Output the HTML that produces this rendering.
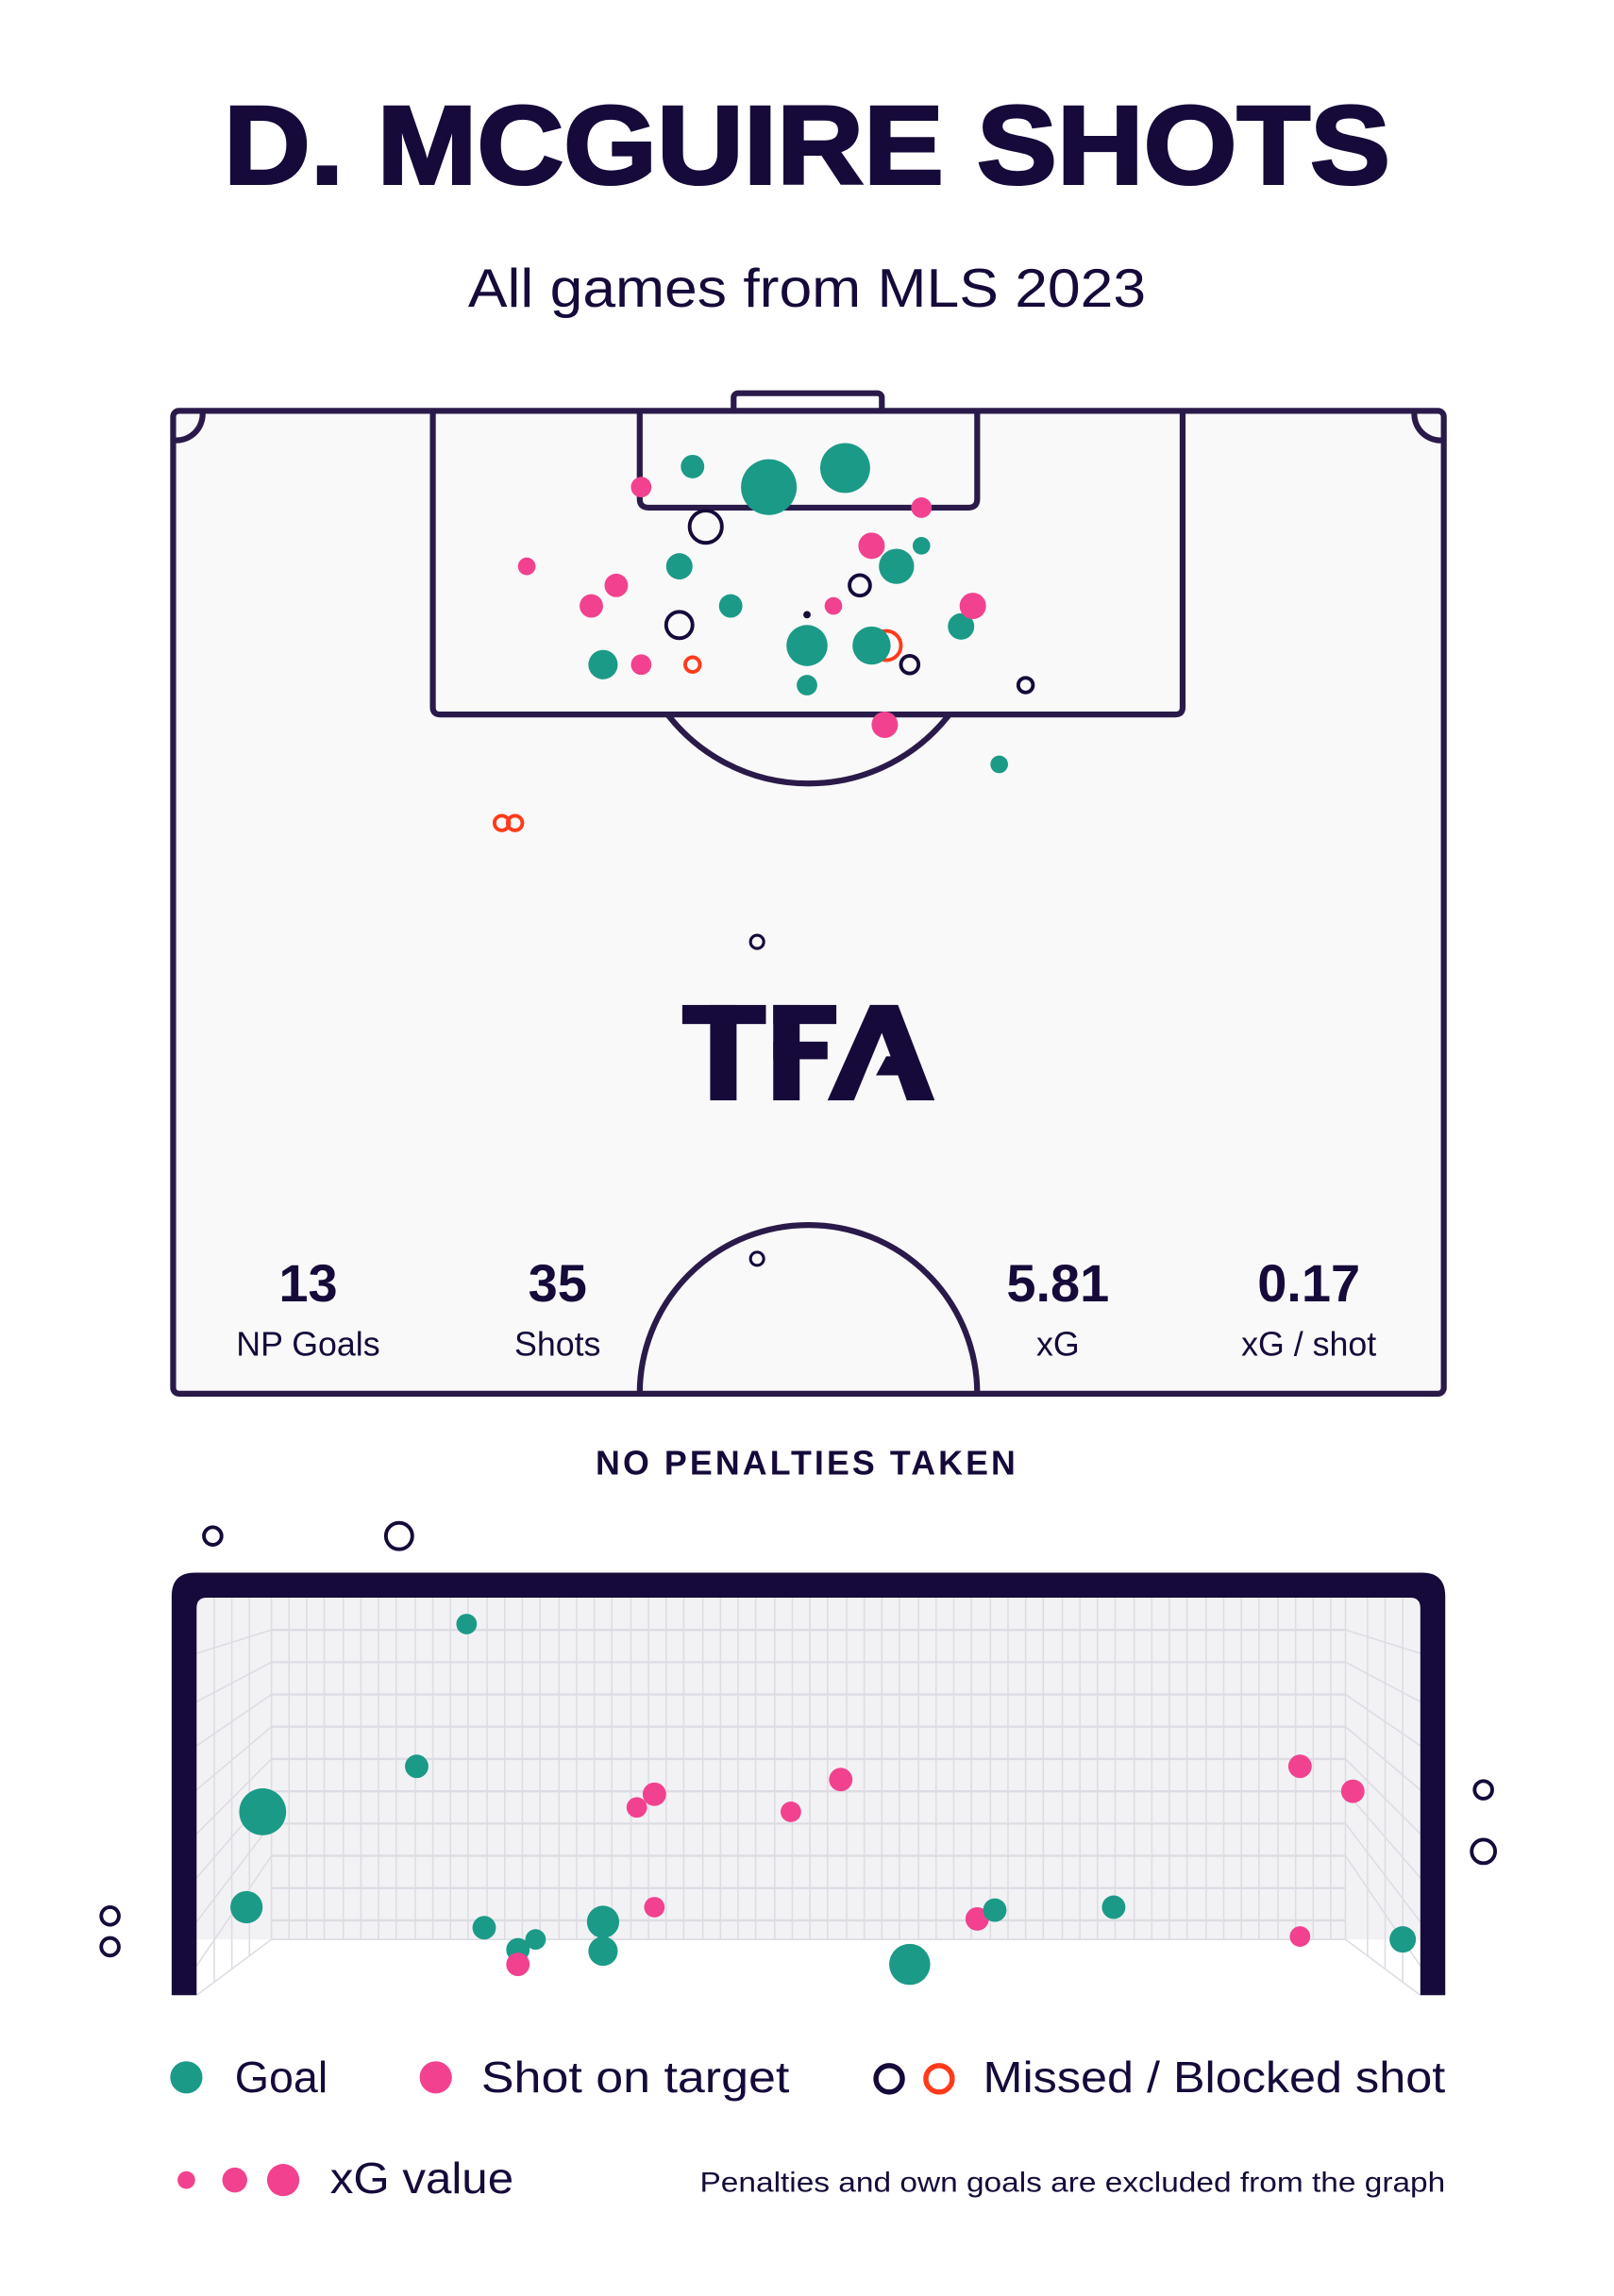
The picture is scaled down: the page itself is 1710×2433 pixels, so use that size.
<!DOCTYPE html>
<html><head><meta charset="utf-8"><style>html,body{margin:0;padding:0;background:#fff}svg{display:block}</style></head>
<body>
<svg width="1710" height="2433" viewBox="0 0 1100 1565" xmlns="http://www.w3.org/2000/svg" font-family="Liberation Sans, sans-serif">
<rect width="1100" height="1565" fill="#fff"/>
<text x="550" y="125" text-anchor="middle" font-size="76" font-weight="900" fill="#160a3a" textLength="795" lengthAdjust="spacingAndGlyphs" stroke="#160a3a" stroke-width="2">D. MCGUIRE SHOTS</text>
<text x="550" y="209" text-anchor="middle" font-size="37" fill="#160a3a" textLength="462" lengthAdjust="spacingAndGlyphs">All games from MLS 2023</text>
<g fill="none" stroke="#2a1a4a" stroke-width="4">
<rect x="500" y="268" width="101" height="14" rx="3" fill="#fff"/>
<rect x="118" y="280" width="866" height="670" rx="4" fill="#f9f9f9"/>
<path d="M295 280 V482 q0 5 5 5 H801 q5 0 5-5 V280"/>
<path d="M436 280 V340 q0 6 6 6 H660 q6 0 6-6 V280"/>
<path d="M455 487 A121.5 121.5 0 0 0 647 487"/>
<path d="M436 950 A115 115 0 0 1 666 950"/>
<path d="M118 300 A18 18 0 0 0 138 280"/>
<path d="M984 300 A18 18 0 0 1 964 280"/>
</g>
<g fill="#1b9a87">
<circle cx="472" cy="318" r="8"/><circle cx="524" cy="332" r="19"/><circle cx="576" cy="319" r="17"/><circle cx="463" cy="386" r="9"/><circle cx="611" cy="386" r="12"/><circle cx="628" cy="372" r="6"/><circle cx="498" cy="413" r="8"/><circle cx="655" cy="427" r="9"/><circle cx="550" cy="440" r="14"/><circle cx="411" cy="453" r="10"/><circle cx="550" cy="467" r="7"/><circle cx="681" cy="521" r="6"/>
</g>
<g fill="#f2428f">
<circle cx="437" cy="332" r="7"/><circle cx="628" cy="346" r="7"/><circle cx="359" cy="386" r="6"/><circle cx="594" cy="372" r="9"/><circle cx="420" cy="399" r="8"/><circle cx="403" cy="413" r="8"/><circle cx="568" cy="413" r="6"/><circle cx="663" cy="413" r="9"/><circle cx="437" cy="453" r="7"/><circle cx="603" cy="494" r="9"/>
</g>
<g fill="none" stroke="#ff3a1a" stroke-width="2.5">
<circle cx="604" cy="440" r="10"/><circle cx="472" cy="453" r="5"/><circle cx="342" cy="561" r="5"/><circle cx="351" cy="561" r="5"/>
</g>
<circle cx="594" cy="440" r="13" fill="#1b9a87"/>
<g fill="none" stroke="#160a3a" stroke-width="2.5">
<circle cx="481" cy="359" r="11"/><circle cx="586" cy="399" r="7"/><circle cx="463" cy="426" r="9"/><circle cx="620" cy="453" r="6"/><circle cx="699" cy="467" r="5"/><circle cx="516" cy="642" r="4.5" stroke-width="2"/><circle cx="516" cy="858" r="4.5" stroke-width="2"/>
</g>
<circle cx="550" cy="419" r="2.5" fill="#160a3a"/>
<g fill="#160a3a">
<rect x="465" y="685" width="57" height="13"/><rect x="484" y="685" width="18" height="65"/>
<rect x="527" y="685" width="43" height="13"/><rect x="527" y="685" width="18" height="65"/><rect x="527" y="710" width="37" height="12"/>
<polygon points="593,685 612,685 637,750 618,750 612,733 597,733 604,720 607,720 601,704 582,750 564,750"/>
</g>
<g fill="#160a3a" text-anchor="middle">
<text x="210" y="887" font-size="36" font-weight="900">13</text>
<text x="380" y="887" font-size="36" font-weight="900">35</text>
<text x="721" y="887" font-size="36" font-weight="900">5.81</text>
<text x="892" y="887" font-size="36" font-weight="900">0.17</text>
<text x="210" y="924" font-size="23">NP Goals</text>
<text x="380" y="924" font-size="23">Shots</text>
<text x="721" y="924" font-size="23">xG</text>
<text x="892" y="924" font-size="23">xG / shot</text>
<text x="550" y="1005" font-size="23" font-weight="bold" letter-spacing="2">NO PENALTIES TAKEN</text>
</g>
<rect x="134" y="1089" width="834" height="271" fill="#f2f2f5"/>
<rect x="134" y="1322" width="834" height="38" fill="#fff"/>
<g stroke="#dcdce3" stroke-width="1">
<path d="M185 1089 V1322 M917 1089 V1322 M185 1322 H917 M185 1322 L134 1360 M917 1322 L968 1360"/>
<path d="M197 1089V1322M209 1089V1322M221 1089V1322M234 1089V1322M246 1089V1322M258 1089V1322M270 1089V1322M283 1089V1322M295 1089V1322M307 1089V1322M319 1089V1322M332 1089V1322M344 1089V1322M356 1089V1322M368 1089V1322M381 1089V1322M393 1089V1322M405 1089V1322M417 1089V1322M430 1089V1322M442 1089V1322M454 1089V1322M466 1089V1322M479 1089V1322M491 1089V1322M503 1089V1322M515 1089V1322M528 1089V1322M540 1089V1322M552 1089V1322M564 1089V1322M577 1089V1322M589 1089V1322M601 1089V1322M613 1089V1322M626 1089V1322M638 1089V1322M650 1089V1322M662 1089V1322M675 1089V1322M687 1089V1322M699 1089V1322M711 1089V1322M724 1089V1322M736 1089V1322M748 1089V1322M760 1089V1322M773 1089V1322M785 1089V1322M797 1089V1322M809 1089V1322M822 1089V1322M834 1089V1322M846 1089V1322M858 1089V1322M871 1089V1322M883 1089V1322M895 1089V1322M907 1089V1322"/>
<path stroke-width="1.5" d="M185 1111H917M185 1133H917M185 1155H917M185 1177H917M185 1199H917M185 1221H917M185 1243H917M185 1265H917M185 1287H917M185 1309H917"/>
<path d="M146 1089V1351M158 1089V1342M170 1089V1333M956 1089V1351M944 1089V1342M932 1089V1333"/>
<path d="M134 1127L185 1111M134 1160L185 1133M134 1190L185 1155M134 1220L185 1177M134 1250L185 1199M134 1280L185 1221M134 1310L185 1243M134 1340L185 1265M968 1127L917 1111M968 1160L917 1133M968 1190L917 1155M968 1220L917 1177M968 1250L917 1199M968 1280L917 1221M968 1310L917 1243M968 1340L917 1265"/>
</g>
<path d="M117 1360 V1088 q0-16 16-16 H969 q16 0 16 16 V1360 H968 V1096 q0-7-7-7 H141 q-7 0-7 7 V1360 Z" fill="#160a3a"/>
<g fill="#1b9a87">
<circle cx="318" cy="1107" r="7"/><circle cx="284" cy="1204" r="8"/><circle cx="179" cy="1235" r="16"/><circle cx="168" cy="1300" r="11"/><circle cx="330" cy="1314" r="8"/><circle cx="353" cy="1329" r="8"/><circle cx="365" cy="1322" r="7"/><circle cx="411" cy="1310" r="11"/><circle cx="411" cy="1330" r="10"/><circle cx="620" cy="1339" r="14"/><circle cx="759" cy="1300" r="8"/><circle cx="956" cy="1322" r="9"/>
</g>
<g fill="#f2428f">
<circle cx="434" cy="1232" r="7"/><circle cx="446" cy="1223" r="8"/><circle cx="539" cy="1235" r="7"/><circle cx="573" cy="1213" r="8"/><circle cx="446" cy="1300" r="7"/><circle cx="353" cy="1339" r="8"/><circle cx="666" cy="1308" r="8"/><circle cx="886" cy="1204" r="8"/><circle cx="922" cy="1221" r="8"/><circle cx="886" cy="1320" r="7"/>
</g>
<circle cx="678" cy="1302" r="8" fill="#1b9a87"/>
<g fill="none" stroke="#160a3a" stroke-width="2.5">
<circle cx="145" cy="1047" r="6"/><circle cx="272" cy="1047" r="9"/><circle cx="75" cy="1306" r="6"/><circle cx="75" cy="1327" r="6"/><circle cx="1011" cy="1220" r="6"/><circle cx="1011" cy="1262" r="8"/>
</g>
<circle cx="127" cy="1416" r="11" fill="#1b9a87"/>
<text x="160" y="1426" font-size="30" fill="#160a3a">Goal</text>
<circle cx="297" cy="1416" r="11" fill="#f2428f"/>
<text x="328" y="1426" font-size="30" fill="#160a3a" textLength="210" lengthAdjust="spacingAndGlyphs">Shot on target</text>
<circle cx="606" cy="1417" r="9" fill="none" stroke="#160a3a" stroke-width="3.5"/>
<circle cx="640" cy="1417" r="9" fill="none" stroke="#ff3a1a" stroke-width="3.5"/>
<text x="670" y="1426" font-size="30" fill="#160a3a" textLength="315" lengthAdjust="spacingAndGlyphs">Missed / Blocked shot</text>
<circle cx="127" cy="1486" r="6" fill="#f2428f"/>
<circle cx="160" cy="1486" r="8.5" fill="#f2428f"/>
<circle cx="193" cy="1486" r="11" fill="#f2428f"/>
<text x="225" y="1495" font-size="30" fill="#160a3a" textLength="125" lengthAdjust="spacingAndGlyphs">xG value</text>
<text x="985" y="1494" font-size="19" fill="#160a3a" text-anchor="end" textLength="508" lengthAdjust="spacingAndGlyphs">Penalties and own goals are excluded from the graph</text>
</svg>
</body></html>
